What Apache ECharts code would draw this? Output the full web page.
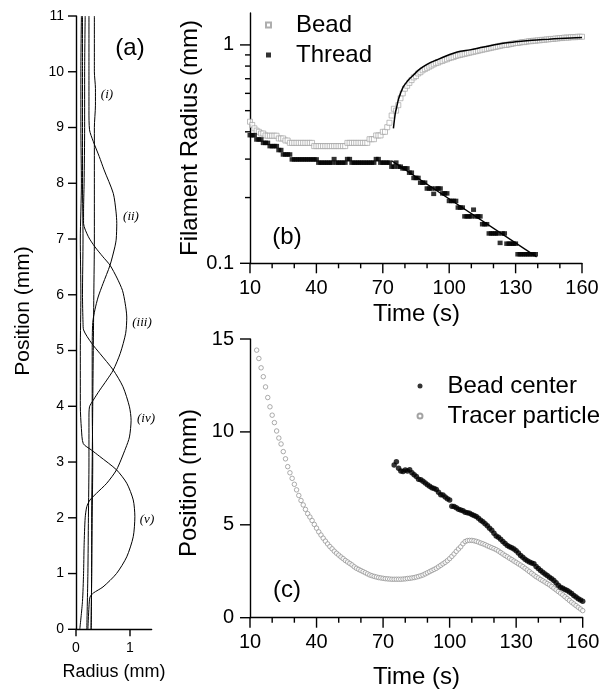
<!DOCTYPE html>
<html><head><meta charset="utf-8">
<script src="https://cdn.jsdelivr.net/npm/echarts@6/dist/echarts.min.js"></script>
<style>html,body{margin:0;padding:0;background:#fff}#c{width:608px;height:694px}</style>
</head><body><div id="c"></div>
<script>
// ---------- Panel (a): filament profiles (radius vs position, mm) ----------
const posI   = [0, 1, 2, 3, 4, 5, 6, 7, 8, 9, 9.4, 9.7, 10, 11];
const radI   = [0.28, 0.29, 0.29, 0.30, 0.31, 0.32, 0.33, 0.34, 0.34, 0.34, 0.36, 0.36, 0.34, 0.34];
const posII  = [0, 1, 2, 3, 4, 5, 5.5, 5.73, 5.96, 6.2, 6.53, 6.86, 7.0, 7.28, 7.5, 7.82, 8.24, 8.48, 8.75, 8.96, 9.3, 10, 11];
const radII  = [0.28, 0.29, 0.30, 0.31, 0.30, 0.30, 0.31, 0.35, 0.41, 0.50, 0.63, 0.72, 0.745, 0.755, 0.74, 0.69, 0.52, 0.43, 0.32, 0.25, 0.24, 0.24, 0.24];
const posIII = [0, 1, 2, 3, 3.8, 3.99, 4.11, 4.29, 4.47, 4.65, 4.95, 5.31, 5.6, 5.85, 6.08, 6.3, 6.53, 6.68, 6.86, 7.04, 7.28, 7.5, 8, 9, 10, 11];
const radIII = [0.20, 0.22, 0.23, 0.24, 0.24, 0.25, 0.32, 0.44, 0.57, 0.69, 0.82, 0.92, 0.94, 0.91, 0.86, 0.76, 0.63, 0.50, 0.35, 0.23, 0.14, 0.14, 0.15, 0.16, 0.16, 0.17];
const posIV  = [0, 0.5, 1, 1.5, 2, 2.2, 2.32, 2.44, 2.62, 2.86, 3.25, 3.45, 3.75, 3.99, 4.35, 4.65, 4.95, 5.13, 5.37, 5.5, 6, 7, 8, 9, 10, 11];
const radIV  = [0.07, 0.12, 0.14, 0.15, 0.17, 0.20, 0.26, 0.38, 0.57, 0.75, 0.92, 0.99, 1.02, 0.99, 0.87, 0.69, 0.44, 0.29, 0.14, 0.13, 0.12, 0.13, 0.12, 0.12, 0.12, 0.12];
const posV   = [0, 0.4, 0.58, 0.65, 0.76, 1.0, 1.3, 1.66, 2.02, 2.32, 2.62, 2.86, 3.1, 3.22, 3.33, 3.6, 4, 5, 6, 7, 8, 9, 10, 11];
const radV   = [0.22, 0.24, 0.26, 0.32, 0.50, 0.75, 0.94, 1.06, 1.09, 1.06, 0.94, 0.75, 0.44, 0.28, 0.135, 0.10, 0.08, 0.08, 0.09, 0.08, 0.10, 0.09, 0.09, 0.10];
const radiusTicks = [0, 1];
const positionTicksA = [0, 1, 2, 3, 4, 5, 6, 7, 8, 9, 10, 11];

// ---------- Panel (b): filament radius vs time (one sample per second) ----------
const beadT0 = 10;
const beadRadius = [
  0.445,0.43,0.415,0.405,0.40,0.393,0.393,0.385,0.384,0.384,
  0.384,0.384,0.384,0.373,0.373,0.373,0.365,0.365,0.356,0.356,
  0.356,0.356,0.356,0.356,0.356,0.356,0.356,0.356,0.356,0.344,
  0.344,0.344,0.344,0.344,0.344,0.344,0.344,0.344,0.344,0.344,
  0.344,0.344,0.344,0.344,0.356,0.356,0.356,0.356,0.356,0.356,
  0.356,0.356,0.356,0.356,0.37,0.37,0.37,0.385,0.385,0.385,
  0.40,0.40,0.42,0.44,0.475,0.51,
  0.50,0.53,0.57,0.60,0.63,0.65,0.67,0.69,0.71,0.72,
  0.74,0.75,0.765,0.775,0.785,0.795,0.805,0.815,0.825,0.83,
  0.84,0.845,0.855,0.86,0.87,0.875,0.88,0.89,0.895,0.90,
  0.905,0.91,0.915,0.92,0.925,0.93,0.935,0.94,0.945,0.95,
  0.955,0.96,0.965,0.97,0.975,0.98,0.985,0.99,0.995,1.0,
  1.0,1.005,1.01,1.015,1.02,1.02,1.025,1.03,1.03,1.035,
  1.04,1.04,1.045,1.045,1.05,1.05,1.055,1.055,1.06,1.06,
  1.065,1.065,1.07,1.07,1.075,1.075,1.08,1.08,1.08,1.085,
  1.085,1.085,1.09,1.09,1.09
];
const threadT0 = 10;
const threadRadius = [
  0.386,0.386,0.386,0.369,0.369,0.369,0.356,0.356,0.356,0.344,
  0.344,0.344,0.344,0.33,0.33,0.315,0.315,0.315,0.315,0.299,
  0.299,0.299,0.299,0.299,0.299,0.299,0.299,0.299,0.299,0.299,
  0.299,0.289,0.289,0.289,0.289,0.289,0.289,0.289,0.30,0.289,
  0.289,0.289,0.289,0.289,0.30,0.30,0.289,0.289,0.289,0.289,
  0.289,0.289,0.289,0.289,0.289,0.289,0.289,0.30,0.30,0.289,
  0.289,0.289,0.289,0.289,0.277,0.277,0.289,0.277,0.277,0.272,
  0.272,0.272,0.26,0.26,0.246,0.246,0.246,0.234,0.234,0.234,
  0.22,0.22,0.22,0.208,0.22,0.22,0.22,0.209,0.209,0.209,
  0.193,0.193,0.193,0.193,0.18,0.18,0.18,0.164,0.164,0.164,
  0.164,0.176,0.164,0.164,0.164,0.151,0.151,0.151,0.137,0.137,
  0.137,0.137,0.137,0.124,0.137,0.137,0.123,0.123,0.123,0.123,
  0.123,0.11,0.11,0.11,0.11,0.11,0.11,0.11,0.11,0.11
];
const beadFitTime   = [74.8, 75.2, 75.7, 76.3, 77, 78, 79.3, 81, 82.3, 84, 86, 88.3, 91, 94.3, 98, 101.9, 105, 109.4, 115, 120, 124.4, 130, 135, 139.5, 145, 150, 155, 160];
const beadFitRadius = [0.415, 0.45, 0.49, 0.52, 0.56, 0.60, 0.644, 0.68, 0.703, 0.73, 0.765, 0.795, 0.825, 0.853, 0.885, 0.916, 0.935, 0.949, 0.975, 0.998, 1.018, 1.033, 1.045, 1.054, 1.062, 1.07, 1.076, 1.08];
const threadFitTime   = [74, 139.5];
const threadFitRadius = [0.295, 0.107];
const logMajorTicks = [0.1, 1];
const logMinorTicks = [0.2, 0.3, 0.4, 0.5, 0.6, 0.7, 0.8, 0.9];
const timeTicks = [10, 40, 70, 100, 130, 160];
const timeMinorTicks = [20, 30, 50, 60, 80, 90, 110, 120, 140, 150];

// ---------- Panel (c): position vs time (one sample per second) ----------
const tracerT0 = 13;
const tracerPos = [
  14.4,13.95,13.45,12.97,12.42,11.85,11.35,10.9,10.5,10.05,
  9.67,9.35,8.94,8.55,8.13,7.8,7.5,7.18,6.88,6.58,
  6.31,6.07,5.83,5.6,5.42,5.23,5.02,4.82,4.62,4.45,
  4.28,4.12,3.97,3.83,3.71,3.58,3.47,3.37,3.27,3.18,
  3.08,3.0,2.92,2.84,2.74,2.66,2.6,2.54,2.48,2.42,
  2.36,2.3,2.26,2.22,2.19,2.16,2.14,2.12,2.1,2.09,
  2.08,2.07,2.07,2.07,2.07,2.07,2.08,2.09,2.11,2.12,
  2.14,2.16,2.19,2.22,2.26,2.3,2.36,2.42,2.48,2.54,
  2.6,2.66,2.74,2.82,2.9,2.98,3.07,3.18,3.3,3.43,
  3.57,3.7,3.82,3.98,4.1,4.15,4.16,4.16,4.14,4.11,
  4.07,4.02,3.98,3.93,3.87,3.82,3.77,3.72,3.66,3.59,
  3.51,3.43,3.35,3.28,3.2,3.13,3.05,2.98,2.9,2.83,
  2.75,2.66,2.57,2.48,2.39,2.3,2.21,2.14,2.06,1.99,
  1.92,1.84,1.77,1.68,1.59,1.5,1.41,1.32,1.23,1.13,
  1.03,0.93,0.83,0.74,0.65,0.56,0.47,0.38
];
const beadCenterT0 = 75;
const beadCenterPos = [
  8.22,8.4,8.05,7.9,7.87,7.95,7.9,7.96,7.8,7.7,
  7.6,7.45,7.43,7.34,7.25,7.15,7.07,7.0,6.95,6.9,
  6.75,6.62,6.6,6.5,6.4,6.34,6.0,5.98,5.92,5.84,
  5.8,5.75,5.68,5.65,5.62,5.55,5.5,5.44,5.35,5.25,
  5.17,5.05,4.95,4.82,4.7,4.55,4.4,4.33,4.22,4.1,
  4.0,3.88,3.82,3.76,3.7,3.6,3.48,3.35,3.25,3.15,
  3.07,3.0,2.95,2.9,2.75,2.65,2.54,2.45,2.35,2.27,
  2.18,2.1,2.0,1.88,1.75,1.64,1.58,1.52,1.46,1.38,
  1.3,1.2,1.12,1.02,0.95,0.88
];
const positionTicksC = [0, 5, 10, 15];

// ---------- build ----------
const FONT = '"Liberation Sans", Arial, sans-serif';
const zip = (xs, ys) => xs.map((x, i) => [x, ys[i]]);
const series1s = (t0, vals) => vals.map((v, i) => [t0 + i, v]);
const profile = (pos, rad) => pos.map((p, i) => [rad[i], p]);

function axisBase(o) {
  return Object.assign({
    axisLine: { show: true, onZero: false, lineStyle: { color: '#000', width: 1.4 } },
    axisTick: { show: false },
    minorTick: { show: false },
    splitLine: { show: false },
    minorSplitLine: { show: false }
  }, o);
}
const lbl = (size, margin, custom) => {
  const l = { show: true, fontSize: size, margin: margin, color: '#000', fontFamily: FONT };
  if (custom) l.customValues = custom;
  return l;
};

const chart = echarts.init(document.getElementById('c'));
const profSeries = [[posI, radI], [posII, radII], [posIII, radIII], [posIV, radIV], [posV, radV]].map((pr, k) => ({
  type: 'line', name: 'profile' + k, xAxisIndex: 0, yAxisIndex: 0,
  data: profile(pr[0], pr[1]), showSymbol: false, smooth: 0.25,
  lineStyle: { color: '#000', width: 1 }, silent: true, z: 3
}));
const romanFont = 'italic 13px "Liberation Serif", serif';
const txt = (text, x, y, font, rot) => ({
  type: 'text', x: x, y: y, rotation: rot || 0, silent: true,
  style: { text: text, font: font, fill: '#000', align: 'center', verticalAlign: 'middle' }
});

const option = {
  animation: false,
  grid: [
    { left: 76, top: 16, width: 75.6, height: 613.3 },
    { left: 250, top: 13, width: 332, height: 250.3 },
    { left: 250, top: 339, width: 332.7, height: 278.7 }
  ],
  xAxis: [
    axisBase({ gridIndex: 0, type: 'value', min: 0, max: 1.4, interval: 1, axisLabel: lbl(14, 12, radiusTicks) }),
    axisBase({ gridIndex: 1, type: 'value', min: 10, max: 160, interval: 30, axisLabel: lbl(20, 15) }),
    axisBase({ gridIndex: 2, type: 'value', min: 10, max: 160, interval: 30, axisLabel: lbl(20, 15) })
  ],
  yAxis: [
    axisBase({ gridIndex: 0, type: 'value', min: 0, max: 11, interval: 1, axisLabel: lbl(14, 12) }),
    axisBase({ gridIndex: 1, type: 'log', logBase: 10, min: 0.1, max: 1.4, position: 'left', axisLabel: lbl(20, 16, logMajorTicks) }),
    axisBase({ gridIndex: 2, type: 'value', min: 0, max: 15, interval: 5, axisLabel: lbl(20, 16) })
  ],
  legend: [
    { data: ['Bead', 'Thread'], orient: 'vertical', left: 260, top: 8, itemGap: 6, itemWidth: 5, itemHeight: 5,
      selectedMode: false, textStyle: { fontSize: 24, lineHeight: 24, fontFamily: FONT, color: '#000', padding: [0, 0, 0, 20] } },
    { data: ['Bead center', 'Tracer particle'], orient: 'vertical', left: 411.5, top: 369, itemGap: 6, itemWidth: 5, itemHeight: 5,
      selectedMode: false, textStyle: { fontSize: 24, lineHeight: 24, fontFamily: FONT, color: '#000', padding: [0, 0, 0, 20] } }
  ],
  series: profSeries.concat([
    { type: 'scatter', name: 'Bead', xAxisIndex: 1, yAxisIndex: 1, symbol: 'rect', symbolSize: 5,
      data: series1s(beadT0, beadRadius), silent: true,
      itemStyle: { color: '#fff', borderColor: '#9a9a9a', borderWidth: 0.8 }, z: 2 },
    { type: 'scatter', name: 'Thread', xAxisIndex: 1, yAxisIndex: 1, symbol: 'rect', symbolSize: [5, 4.5],
      data: series1s(threadT0, threadRadius), silent: true,
      itemStyle: { color: '#000' }, z: 3 },
    { type: 'line', name: 'beadFit', xAxisIndex: 1, yAxisIndex: 1, showSymbol: false, smooth: 0.3,
      data: zip(beadFitTime, beadFitRadius), silent: true, lineStyle: { color: '#000', width: 1.5 }, z: 4 },
    { type: 'line', name: 'threadFit', xAxisIndex: 1, yAxisIndex: 1, showSymbol: false,
      data: zip(threadFitTime, threadFitRadius), silent: true, lineStyle: { color: '#000', width: 1.3 }, z: 4 },
    { type: 'scatter', name: 'Bead center', xAxisIndex: 2, yAxisIndex: 2, symbol: 'circle', symbolSize: 5.5,
      data: series1s(beadCenterT0, beadCenterPos), silent: true, itemStyle: { color: '#000' }, z: 3 },
    { type: 'scatter', name: 'Tracer particle', xAxisIndex: 2, yAxisIndex: 2, symbol: 'circle', symbolSize: 4.5,
      data: series1s(tracerT0, tracerPos), silent: true,
      itemStyle: { color: '#fff', borderColor: '#8c8c8c', borderWidth: 0.9 }, z: 2 }
  ])
};
chart.setOption(option);

// ---------- texts + tick marks (tick positions from the axes' own scales) ----------
const texts = [
  txt('Position (mm)', 23, 311, '21px ' + FONT, Math.PI / 2),
  txt('Radius (mm)', 114, 672, '18px ' + FONT),
  txt('Filament Radius (mm)', 190, 138, '24px ' + FONT, Math.PI / 2),
  txt('Time (s)', 416.5, 314, '24px ' + FONT),
  txt('Position (mm)', 189, 483, '24px ' + FONT, Math.PI / 2),
  txt('Time (s)', 416.5, 677, '24px ' + FONT),
  txt('(a)', 130, 48, '24px ' + FONT),
  txt('(b)', 287, 237, '24px ' + FONT),
  txt('(c)', 287, 590, '24px ' + FONT),
  txt('(i)', 107, 95, romanFont),
  txt('(ii)', 131, 217, romanFont),
  txt('(iii)', 142, 323, romanFont),
  txt('(iv)', 146, 419, romanFont),
  txt('(v)', 147, 520, romanFont)
];
const tickEls = [];
function addTicks(gridIndex, pts, dir, len) {
  pts.forEach(pt => {
    const p = chart.convertToPixel({ gridIndex: gridIndex }, pt);
    if (!p || isNaN(p[0]) || isNaN(p[1])) return;
    const shape = dir === 'x'
      ? { x1: p[0], y1: p[1], x2: p[0], y2: p[1] + len }
      : { x1: p[0] - len, y1: p[1], x2: p[0], y2: p[1] };
    tickEls.push({ type: 'line', silent: true, z: 100, shape: shape, style: { stroke: '#000', lineWidth: 1.4 } });
  });
}
const onX = (vals, base) => vals.map(v => [v, base]);
const onY = (vals, base) => vals.map(v => [base, v]);
addTicks(0, onX(radiusTicks, 0), 'x', 7);
addTicks(0, onY(positionTicksA, 0), 'y', 8);
addTicks(1, onX(timeTicks, 0.1), 'x', 10);
addTicks(1, onX(timeMinorTicks, 0.1), 'x', 5);
addTicks(1, onY(logMajorTicks, 10), 'y', 10);
addTicks(1, onY(logMinorTicks, 10), 'y', 5);
addTicks(2, onX(timeTicks, 0), 'x', 10);
addTicks(2, onX(timeMinorTicks, 0), 'x', 5);
addTicks(2, onY(positionTicksC, 10), 'y', 10);
chart.setOption({ graphic: texts.concat(tickEls) });
</script></body></html>
